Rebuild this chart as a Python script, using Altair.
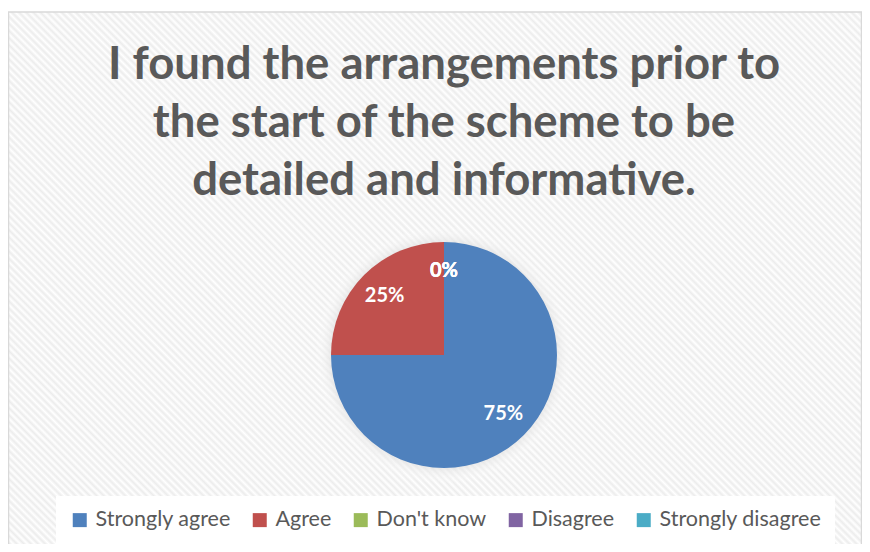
import altair as alt
import pandas as pd

categories = ["Strongly agree", "Agree", "Don't know", "Disagree", "Strongly disagree"]
shares = [75, 25, 0, 0, 0]
colors = ["#4F81BD", "#C0504D", "#9BBB59", "#8064A2", "#4BACC6"]
title_lines = ["I found the arrangements prior to", "the start of the scheme to be", "detailed and informative."]

df = pd.DataFrame({"category": categories, "share": shares, "order": list(range(len(categories)))})
df["label"] = df["share"].astype(str) + "%"
one = pd.DataFrame({"k": [0]})

W, H = 854, 536
CX, CY = 436, 347
R = 113

# faint diagonal hatch background (style only)
N_STRIPES = 240
stops = []
for k in range(N_STRIPES):
    stops.append(alt.GradientStop(offset=k / N_STRIPES, color="#ffffff"))
    stops.append(alt.GradientStop(offset=(k + 0.5) / N_STRIPES, color="#ececec"))
hatch_fill = alt.LinearGradient(gradient="linear", x1=0, y1=1, x2=1, y2=0, stops=stops)

glow_fill = alt.RadialGradient(
    gradient="radial", x1=0.5, y1=0.5, r1=0, x2=0.5, y2=0.5, r2=0.5,
    stops=[
        alt.GradientStop(offset=0, color="#d4d4d4"),
        alt.GradientStop(offset=0.82, color="#d8d8d8"),
        alt.GradientStop(offset=1, color="rgba(255,255,255,0)"),
    ],
)

color = alt.Color(
    "category:N",
    scale=alt.Scale(domain=categories, range=colors),
    sort=categories,
    legend=alt.Legend(
        title=None,
        orient="none",
        direction="horizontal",
        legendX=48,
        legendY=488,
        symbolType="square",
        symbolSize=196,
        symbolStrokeWidth=0,
        labelFontSize=21.5,
        labelFont="Lato",
        labelColor="#595959",
        labelOffset=5,
        labelLimit=0,
        columnPadding=18,
        fillColor="white",
        padding=13,
    ),
)

hatch = alt.Chart(one).mark_rect(fill=hatch_fill, clip=True).encode(
    x=alt.value(0), x2=alt.value(W), y=alt.value(4), y2=alt.value(4 + W)
)

frame = alt.Chart(one).mark_rect(fillOpacity=0, stroke="#d9d9d9", strokeWidth=1.5).encode(
    x=alt.value(0.5), x2=alt.value(W - 0.5), y=alt.value(4), y2=alt.value(H + 10)
)

glow = alt.Chart(one).mark_arc(
    theta=0, theta2=6.2832, outerRadius=R + 16, fill=glow_fill, x=CX, y=CY
).encode(opacity=alt.value(1))

base = alt.Chart(df).encode(
    theta=alt.Theta("share:Q", stack=True),
    order=alt.Order("order:Q"),
)

pie = base.mark_arc(outerRadius=R, x=CX, y=CY).encode(color=color)

labels = base.mark_text(
    radius=84, x=CX, y=CY, fontSize=20, font="Lato", fontWeight="bold", color="white"
).encode(text="label:N")

title = alt.Chart(one).mark_text(
    text=title_lines,
    font="Lato",
    fontWeight="bold",
    fontSize=45.5,
    color="#595959",
    lineHeight=58,
    baseline="alphabetic",
    align="center",
).encode(x=alt.value(CX), y=alt.value(71))

chart = (
    alt.layer(hatch, frame, title, glow, pie, labels)
    .properties(width=W, height=H, autosize=alt.AutoSizeParams(type="none"), padding=0, background="white")
    .configure_view(stroke=None)
)

chart.save("out.html", embed_options={"renderer": "svg", "actions": False})
